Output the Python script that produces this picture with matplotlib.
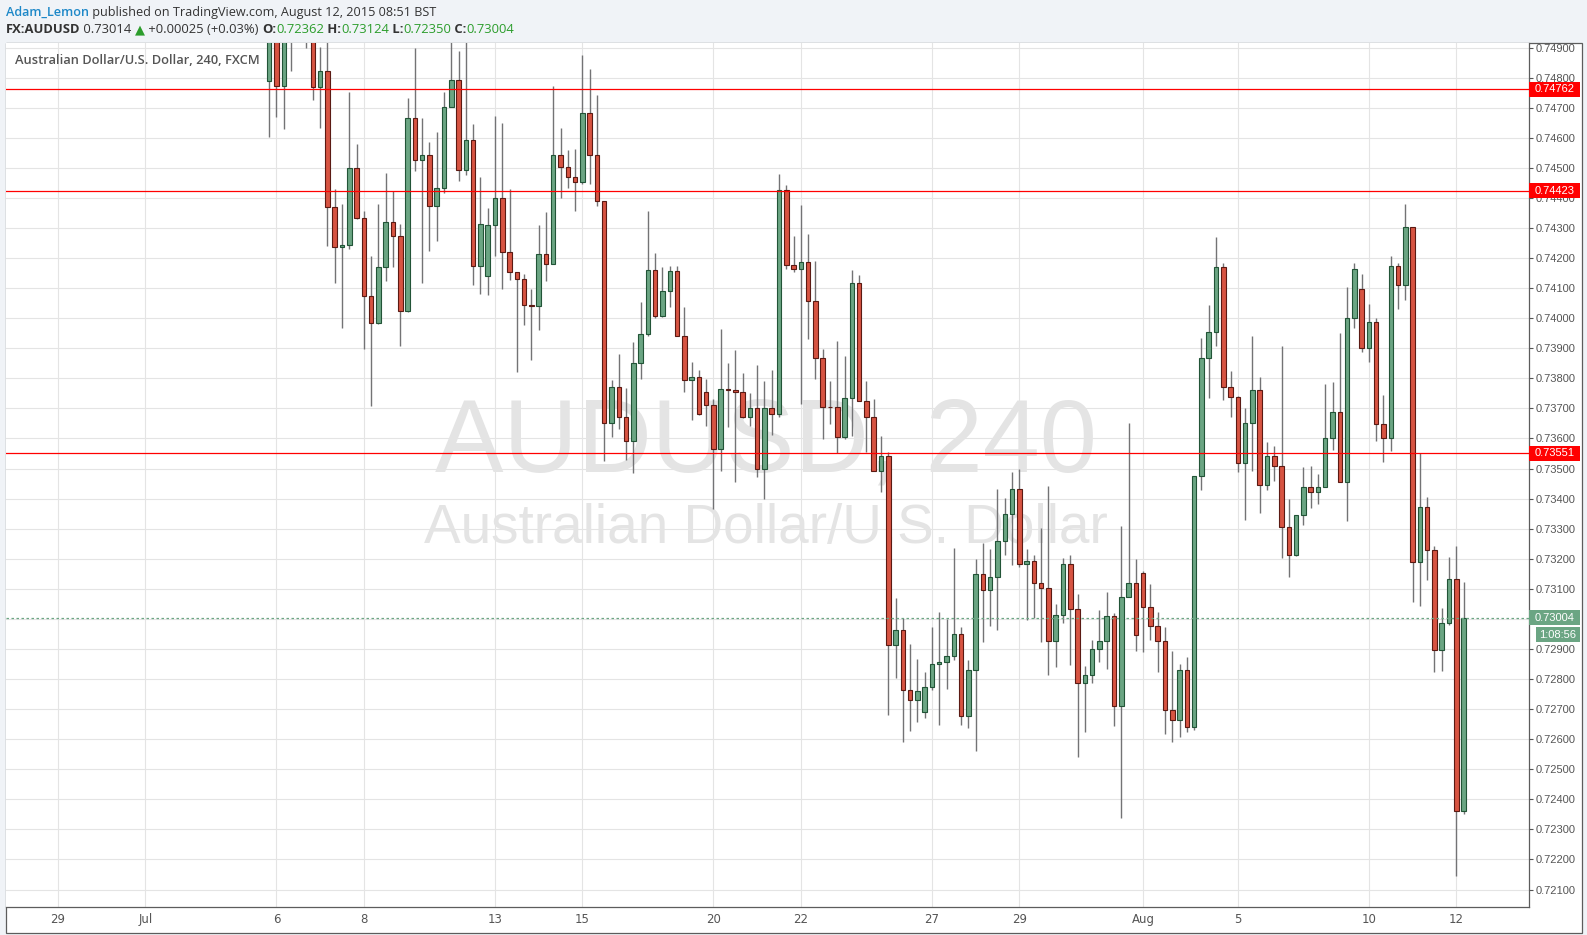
import matplotlib
matplotlib.use('Agg')
import matplotlib.pyplot as plt
from matplotlib.patches import Rectangle
from matplotlib.transforms import blended_transform_factory
import numpy as np

# ---------------- data (4H bars, first value = bar before Jul 6 open) ----------------
first_bar = -1
opens = [0.7479, 0.7497, 0.74773, 0.7495, 0.7504, 0.7508, 0.7497, 0.7477, 0.74823, 0.7437,
         0.74237, 0.74243, 0.745, 0.74333, 0.74073, 0.73983, 0.7417, 0.7432, 0.74273, 0.74023,
         0.74667, 0.74527, 0.74543, 0.74373, 0.74433, 0.74703, 0.74793, 0.74492, 0.74593, 0.74172,
         0.74139, 0.7431, 0.744, 0.7422, 0.74153, 0.7413, 0.74043, 0.7404, 0.74213, 0.7418,
         0.74543, 0.74503, 0.7447, 0.74453, 0.74683, 0.74543, 0.7439, 0.73653, 0.7377, 0.7367,
         0.7359, 0.7385, 0.73946, 0.7416, 0.74006, 0.7409, 0.74156, 0.7394, 0.73796, 0.73803,
         0.73756, 0.7371, 0.73566, 0.73763, 0.7376, 0.73753, 0.7367, 0.737, 0.735, 0.737,
         0.73683, 0.74426, 0.74176, 0.74162, 0.74186, 0.74056, 0.73867, 0.73706, 0.73704, 0.73606,
         0.73733, 0.74116, 0.73723, 0.7367, 0.73493, 0.73543, 0.72914, 0.72963, 0.72764, 0.7273,
         0.72691, 0.72774, 0.7285, 0.72858, 0.72878, 0.72951, 0.72678, 0.72831, 0.73148, 0.73097,
         0.73138, 0.73258, 0.73348, 0.73431, 0.73181, 0.73191, 0.73121, 0.73104, 0.72928, 0.73014,
         0.73181, 0.73034, 0.72788, 0.72814, 0.72901, 0.72928, 0.73008, 0.72711, 0.73074, 0.73121,
         0.73151, 0.73041, 0.72978, 0.72928, 0.72698, 0.72665, 0.72831, 0.72642, 0.73474, 0.73866,
         0.73954, 0.7417, 0.7377, 0.73737, 0.7352, 0.73651, 0.73761, 0.73444, 0.73541, 0.73507,
         0.73304, 0.73213, 0.73344, 0.73439, 0.73423, 0.73439, 0.73602, 0.73687, 0.73456, 0.74002,
         0.74096, 0.73902, 0.73988, 0.73649, 0.73602, 0.74175, 0.74109, 0.74302, 0.73189, 0.73373,
         0.7323, 0.72895, 0.72987, 0.73133, 0.72362]
highs = [0.7503, 0.7500, 0.7502, 0.7510, 0.7512, 0.7510, 0.7499, 0.74901, 0.7493, 0.74428,
         0.74381, 0.74753, 0.74578, 0.74357, 0.74207, 0.74378, 0.74484, 0.74423, 0.74314, 0.74733,
         0.7490, 0.74667, 0.74587, 0.74618, 0.74753, 0.7493, 0.74887, 0.7493, 0.74644, 0.74471,
         0.74367, 0.74671, 0.74648, 0.74428, 0.74153, 0.74148, 0.74098, 0.74311, 0.74354, 0.74773,
         0.74631, 0.74558, 0.74564, 0.74874, 0.74828, 0.74743, 0.7439, 0.73794, 0.73881, 0.73767,
         0.73921, 0.74054, 0.74357, 0.74217, 0.74171, 0.74174, 0.74174, 0.74037, 0.73854, 0.73827,
         0.73797, 0.7373, 0.73964, 0.73851, 0.73894, 0.73817, 0.73751, 0.73843, 0.73791, 0.73827,
         0.7448, 0.74444, 0.74274, 0.74377, 0.7428, 0.7419, 0.73898, 0.73791, 0.73924, 0.73874,
         0.74161, 0.74144, 0.73791, 0.73731, 0.73607, 0.73556, 0.73068, 0.73003, 0.72918, 0.72868,
         0.72822, 0.72974, 0.73022, 0.72999, 0.73235, 0.72974, 0.72864, 0.73198, 0.73254, 0.73231,
         0.73431, 0.73401, 0.73488, 0.73498, 0.73231, 0.73211, 0.73301, 0.73441, 0.73048, 0.73201,
         0.73214, 0.73084, 0.72844, 0.72931, 0.73031, 0.73088, 0.73021, 0.73308, 0.73651, 0.73199,
         0.73158, 0.73115, 0.73024, 0.72972, 0.72893, 0.72851, 0.72872, 0.73474, 0.73933, 0.74043,
         0.74271, 0.74184, 0.73825, 0.73741, 0.73701, 0.73941, 0.73804, 0.73588, 0.73575, 0.73908,
         0.73399, 0.73344, 0.73504, 0.73507, 0.73482, 0.7378, 0.73788, 0.73952, 0.74105, 0.74185,
         0.74147, 0.74046, 0.74002, 0.73744, 0.74207, 0.74185, 0.74381, 0.74302, 0.73551, 0.73406,
         0.73242, 0.73035, 0.73207, 0.73242, 0.73124]
lows = [0.74602, 0.74669, 0.74629, 0.74822, 0.7496, 0.74899, 0.74726, 0.74632, 0.74239, 0.74117,
        0.73967, 0.74229, 0.7433, 0.73896, 0.73709, 0.7398, 0.74122, 0.74169, 0.73909, 0.7402,
        0.7449, 0.74117, 0.74223, 0.74256, 0.74416, 0.74703, 0.74456, 0.74476, 0.74109, 0.74081,
        0.74076, 0.74206, 0.74096, 0.74126, 0.7382, 0.73976, 0.73862, 0.73959, 0.74122, 0.7418,
        0.74398, 0.74433, 0.74356, 0.74446, 0.74445, 0.74373, 0.73525, 0.73605, 0.7363, 0.73529,
        0.73486, 0.73799, 0.7394, 0.73999, 0.74003, 0.74036, 0.7394, 0.73753, 0.73662, 0.73677,
        0.73642, 0.73366, 0.73492, 0.73639, 0.73455, 0.73669, 0.73642, 0.73473, 0.734, 0.73612,
        0.73673, 0.74163, 0.74152, 0.73714, 0.73932, 0.73799, 0.73598, 0.73649, 0.73551, 0.73598,
        0.73607, 0.73723, 0.73556, 0.73493, 0.73423, 0.7268, 0.72803, 0.72592, 0.72626, 0.72657,
        0.72671, 0.72763, 0.72647, 0.72767, 0.72864, 0.72647, 0.72637, 0.7256, 0.72924, 0.72977,
        0.72963, 0.73213, 0.73178, 0.73171, 0.72998, 0.73004, 0.72924, 0.72814, 0.72841, 0.72988,
        0.72848, 0.72541, 0.72623, 0.72788, 0.72858, 0.72834, 0.72644, 0.72338, 0.73074, 0.72894,
        0.7289, 0.72931, 0.72824, 0.72618, 0.7259, 0.72608, 0.72624, 0.72631, 0.73429, 0.73736,
        0.73909, 0.73729, 0.73673, 0.73488, 0.7333, 0.73493, 0.73353, 0.73429, 0.73459, 0.73204,
        0.73139, 0.73209, 0.73313, 0.7337, 0.73382, 0.73439, 0.73562, 0.73456, 0.73325, 0.73966,
        0.73889, 0.73853, 0.7359, 0.73522, 0.73559, 0.74032, 0.74059, 0.73056, 0.73043, 0.73129,
        0.72823, 0.72827, 0.7298, 0.72144, 0.7235]
closes = [0.7497, 0.74773, 0.7495, 0.7504, 0.7508, 0.7497, 0.7477, 0.74823, 0.7437, 0.74237,
          0.74243, 0.745, 0.74333, 0.74073, 0.73983, 0.7417, 0.7432, 0.74273, 0.74023, 0.74667,
          0.74527, 0.74543, 0.74373, 0.74433, 0.74703, 0.74793, 0.74492, 0.74593, 0.74172, 0.74313,
          0.7431, 0.744, 0.7422, 0.74153, 0.7413, 0.74043, 0.7404, 0.74213, 0.7418, 0.74543,
          0.74503, 0.7447, 0.74453, 0.74683, 0.74543, 0.7439, 0.73653, 0.7377, 0.7367, 0.7359,
          0.7385, 0.73946, 0.7416, 0.74006, 0.7409, 0.74156, 0.7394, 0.73796, 0.73803, 0.7368,
          0.7371, 0.73566, 0.73763, 0.7376, 0.73753, 0.7367, 0.737, 0.735, 0.737, 0.73683,
          0.74426, 0.74176, 0.74162, 0.74186, 0.74056, 0.73867, 0.73706, 0.73704, 0.73606, 0.73733,
          0.74116, 0.73723, 0.7367, 0.73493, 0.73543, 0.72914, 0.72963, 0.72764, 0.7273, 0.72761,
          0.72774, 0.7285, 0.72858, 0.72878, 0.72951, 0.72678, 0.72831, 0.73148, 0.73097, 0.73138,
          0.73258, 0.73348, 0.73431, 0.73181, 0.73191, 0.73121, 0.73104, 0.72928, 0.73014, 0.73181,
          0.73034, 0.72788, 0.72814, 0.72901, 0.72928, 0.73008, 0.72711, 0.73074, 0.73121, 0.72947,
          0.73041, 0.72978, 0.72928, 0.72698, 0.72665, 0.72831, 0.72642, 0.73474, 0.73866, 0.73954,
          0.7417, 0.7377, 0.73737, 0.7352, 0.73651, 0.73761, 0.73444, 0.73541, 0.73507, 0.73304,
          0.73213, 0.73344, 0.73439, 0.73423, 0.73439, 0.73602, 0.73687, 0.73456, 0.74002, 0.74162,
          0.73902, 0.73988, 0.73649, 0.73602, 0.74175, 0.74109, 0.74302, 0.73189, 0.73373, 0.7323,
          0.72895, 0.72987, 0.73133, 0.72362, 0.73004]

date_labels = ['29', 'Jul', '6', '8', '13', '15', '20', '22', '27', '29', 'Aug', '5', '10', '12']
date_bars = [-30, -18, 0, 12, 30, 42, 60, 72, 90, 102, 119, 132, 150, 162]

level_prices = [0.74762, 0.74423, 0.73551]
last_price = 0.73004
countdown = '1:08:56'

symbol = 'FX:AUDUSD'
header_last = '0.73014'
header_change = '+0.00025 (+0.03%)'
ohlc_labels = ['O:', 'H:', 'L:', 'C:']
ohlc_values = ['0.72362', '0.73124', '0.72350', '0.73004']

# ---------------- figure ----------------
W, H = 1587, 935
BG = '#f0f3f7'
fig = plt.figure(figsize=(W / 100, H / 100), dpi=100, facecolor=BG)


def fx(x):
    return x / W


def fy(y):
    return 1 - y / H


frame = Rectangle((fx(6), fy(933)), fx(1582) - fx(6), fy(43) - fy(933),
                  transform=fig.transFigure, facecolor='white',
                  edgecolor='#5c5c5c', lw=0.9, zorder=-5)
fig.add_artist(frame)

ax = fig.add_axes([fx(6), fy(907), fx(1529) - fx(6), fy(43) - fy(907)])
ax.set_zorder(1)
ax.set_facecolor('white')
YMIN, YMAX = 0.72042, 0.74915
ax.set_ylim(YMIN, YMAX)
ax.set_xlim(-37.14, 171.98)

for side in ['left', 'top']:
    ax.spines[side].set_visible(False)
for side in ['right', 'bottom']:
    ax.spines[side].set_color('#5c5c5c')
    ax.spines[side].set_linewidth(0.9)

# grid
grid_c = '#e4e4e4'
yt = np.round(np.arange(0.721, 0.7491, 0.001), 3)
for v in yt:
    ax.axhline(v, color=grid_c, lw=0.8, zorder=0)
for b in date_bars:
    ax.axvline(b, color=grid_c, lw=0.8, zorder=0)

# watermark
ax.text(0.499, 0.535, 'AUDUSD, 240', transform=ax.transAxes, ha='center', va='center',
        fontsize=74, color='#e4e4e4', family='Liberation Sans', zorder=1)
ax.text(0.499, 0.4375, 'Australian Dollar/U.S. Dollar', transform=ax.transAxes, ha='center',
        va='center', fontsize=39.5, color='#e4e4e4', family='Liberation Sans', zorder=1)

# candles
o = np.array(opens); h = np.array(highs); l = np.array(lows); c = np.array(closes)
xs = np.arange(first_bar, first_bar + len(o))
up = c >= o
bot = np.minimum(o, c)
hgt = np.maximum(np.abs(c - o), 0.000018)
ax.vlines(xs, l, h, color='#737375', lw=1.0, zorder=3)
ax.bar(xs[up], hgt[up], bottom=bot[up], width=0.62, color='#6ba583', edgecolor='#225437',
       lw=0.8, zorder=4)
ax.bar(xs[~up], hgt[~up], bottom=bot[~up], width=0.62, color='#d75442', edgecolor='#5b1a13',
       lw=0.8, zorder=4)

# levels
for p in level_prices:
    ax.axhline(p, color='#ff0000', lw=0.9, zorder=5)
ax.axhline(last_price, color='#6ba583', lw=0.9, ls=(0, (2, 2)), zorder=5)

# axes ticks
ax.yaxis.tick_right()
ax.set_yticks(yt)
ax.set_yticklabels(['%.5f' % v for v in yt])
ax.tick_params(axis='y', length=3, width=0.8, color='#555555', labelcolor='#555555',
               labelsize=8, pad=1.5)
for t in ax.get_yticklabels():
    t.set_family('Liberation Sans')
ax.set_xticks(date_bars)
ax.set_xticklabels(date_labels)
ax.tick_params(axis='x', length=0, labelcolor='#555555', labelsize=8.5, pad=4)
for t in ax.get_xticklabels():
    t.set_family(['Liberation Sans Narrow', 'DejaVu Sans'])

# price boxes on the axis
blend = blended_transform_factory(fig.transFigure, ax.transData)
bh = 15 / 864 * (YMAX - YMIN)
for p in level_prices:
    fig.add_artist(Rectangle((fx(1529), p - bh / 2), fx(1580) - fx(1529), bh, transform=blend,
                             facecolor='#ff0000', edgecolor='none', zorder=6))
    fig.text(fx(1535), p, '%.5f' % p, transform=blend, color='white', fontsize=8,
             va='center', ha='left', family='Liberation Sans', zorder=7)
fig.add_artist(Rectangle((fx(1529), last_price - bh / 2), fx(1580) - fx(1529), bh, transform=blend,
                         facecolor='#6ba583', edgecolor='none', zorder=6))
fig.text(fx(1535), last_price, '%.5f' % last_price, transform=blend, color='white', fontsize=8,
         va='center', ha='left', family='Liberation Sans', zorder=7)
cd_y = last_price - 17 / 864 * (YMAX - YMIN)
fig.add_artist(Rectangle((fx(1536), cd_y - bh / 2), fx(1580) - fx(1536), bh, transform=blend,
                         facecolor='#6ba583', edgecolor='none', zorder=6))
fig.text(fx(1558), cd_y, countdown, transform=blend, color='white', fontsize=8,
         va='center', ha='center', family='Liberation Sans', zorder=7)

# legend text top-left
fig.text(fx(15), fy(60), 'Australian Dollar/U.S. Dollar, 240, FXCM', color='#555555',
         fontsize=9.3, fontweight='semibold', family='Open Sans', va='center', ha='left', zorder=8)

# header
renderer = fig.canvas.get_renderer()


def seq_text(x0, y, parts, size):
    x = x0
    for s, col, wt, fam in parts:
        t = fig.text(fx(x), fy(y), s, color=col, fontweight=wt, fontsize=size,
                     family=fam, va='center', ha='left')
        bb = t.get_window_extent(renderer)
        x += bb.width


OS = 'Open Sans'
DK = '#333333'
GR = '#2c9d2c'
seq_text(6, 12.5, [('Adam_Lemon', '#1e88c8', 'semibold', OS),
                   (' published on TradingView.com, August 12, 2015 08:51 BST', DK, 'normal', OS)],
         9.1)
parts = [(symbol, DK, 'bold', OS), (' ' + header_last + ' ', DK, 'normal', OS),
         ('\u25b2', GR, 'normal', 'DejaVu Sans'), (' ' + header_change + ' ', DK, 'normal', OS)]
for i, (lab, val) in enumerate(zip(ohlc_labels, ohlc_values)):
    parts.append(((' ' if i else '') + lab, DK, 'bold', OS))
    parts.append((val, GR, 'normal', OS))
seq_text(6, 29.5, parts, 9.4)

fig.savefig('out.png', dpi=100, facecolor=BG)
